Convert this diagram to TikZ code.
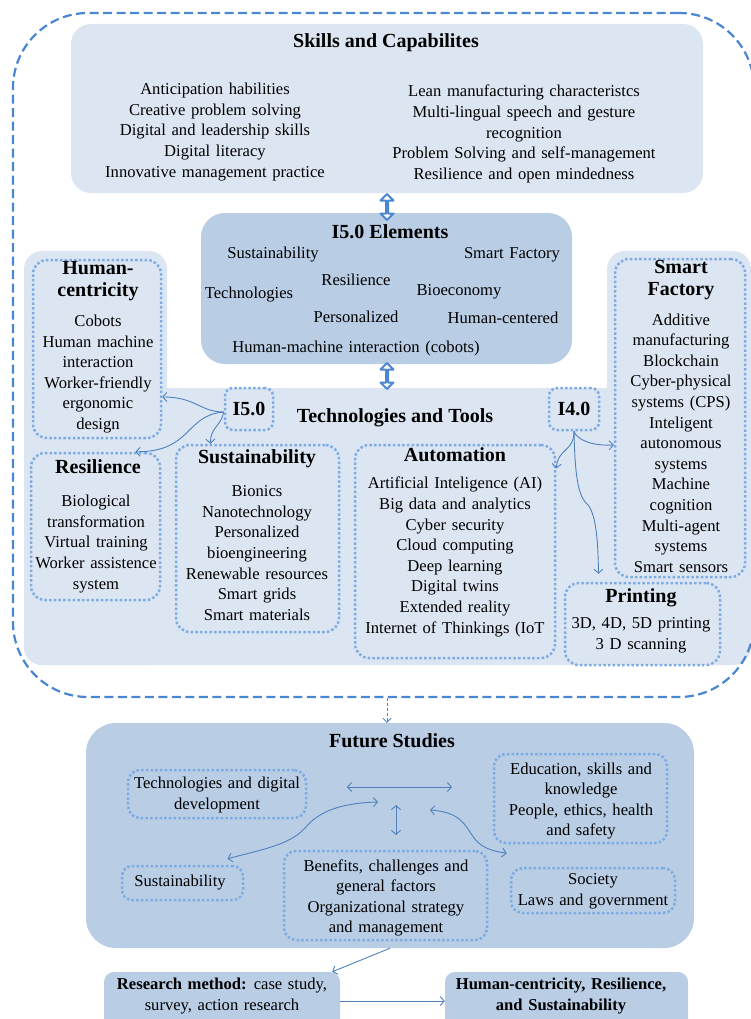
\documentclass[tikz,border=0pt]{standalone}
\usepackage{fontspec}
\setmainfont{Liberation Serif}
\usetikzlibrary{arrows.meta,shapes.arrows,fit,calc}
\definecolor{paleblue}{RGB}{220,230,242}
\definecolor{midblue}{RGB}{185,205,229}
\definecolor{dotblue}{RGB}{125,172,228}
\definecolor{linkblue}{RGB}{79,129,189}
\definecolor{frameblue}{RGB}{74,134,210}
% body text: slightly wider word spacing
\newcommand{\bodyfont}{\fontsize{16.6}{20.6}\selectfont\setlength{\spaceskip}{0.34em plus 0.1em}}

\begin{document}
\begin{tikzpicture}[x=1pt,y=-1pt,
  body/.style={align=center,inner sep=0pt,font=\bodyfont},
  ttl/.style={align=center,inner sep=0pt,font=\fontsize{20}{22.5}\selectfont\bfseries},
  panel/.style={fill=#1,draw=none,inner sep=0pt},
  dotbox/.style={draw=dotblue,line width=2.5pt,dash pattern=on 2.5pt off 2.2pt,inner sep=0pt,rounded corners=#1},
  dotbox/.default=14pt,
  link/.style={draw=linkblue,line width=0.9pt,-{Straight Barb[length=4pt,width=9pt]}},
  biglink/.style={draw=linkblue,line width=0.9pt,{Straight Barb[length=4pt,width=9pt]}-{Straight Barb[length=4pt,width=9pt]}},
  dashlink/.style={draw=frameblue,line width=0.8pt,dash pattern=on 3pt off 2pt,-{Straight Barb[length=4pt,width=8pt]}},
  hollow/.style={shape=double arrow,draw=frameblue,fill=white,line width=2pt,line join=round,
    minimum height=26pt,minimum width=7pt,double arrow head extend=5.5pt,
    double arrow head indent=0pt,inner sep=0pt,rotate=90},
]
\useasboundingbox (0,0) rectangle (751,1019);
\clip (0,0) rectangle (751,1019);

% ---- Skills and capabilities ----
\node[panel=paleblue,rounded corners=20pt,fit={(71,24)(703,193)}] (skills) {};
\node[ttl] (skills-t) at (386,43) {Skills and Capabilites};
\node[body] (skills-l) at (215,132) {Anticipation habilities\\Creative problem solving\\Digital and leadership skills\\Digital literacy\\Innovative management practice};
\node[body] (skills-r) at (524,134) {Lean manufacturing characteristcs\\Multi-lingual speech and gesture\\recognition\\Problem Solving and self-management\\Resilience and open mindedness};

% ---- I5.0 elements ----
\node[panel=midblue,rounded corners=24pt,fit={(201,213)(572,364)}] (elem) {};
\node[ttl] (elem-t) at (390,232) {I5.0 Elements};
\node[body] (e1) at (273,255) {Sustainability};
\node[body] (e2) at (512,255) {Smart Factory};
\node[body] (e3) at (356,280) {Resilience};
\node[body] (e4) at (249,295) {Technologies};
\node[body] (e5) at (459,292) {Bioeconomy};
\node[body] (e6) at (356,317) {Personalized};
\node[body] (e7) at (503,318) {Human-centered};
\node[body] (e8) at (356,349) {Human-machine interaction (cobots)};

% ---- Technologies and tools region ----
\fill[paleblue,rounded corners=18pt] (24,251) rectangle (167,665);
\fill[paleblue,rounded corners=18pt] (607,251) rectangle (751,665);
\fill[paleblue,rounded corners=18pt] (24,388) rectangle (751,665);
\node[ttl] (tech-t) at (395,418) {Technologies and Tools};

\node[hollow] (up1) at (387,207) {};
\node[hollow] (up2) at (387,376) {};

% Human-centricity
\node[dotbox,fit={(33,260)(161,438)}] (hc) {};
\node[ttl] (hc-t) at (98,281) {Human-\\centricity};
\node[body] (hc-b) at (98,374) {Cobots\\Human machine\\interaction\\Worker-friendly\\ergonomic\\design};

% Smart factory
\node[dotbox,fit={(615,259)(745,577)}] (sf) {};
\node[ttl] (sf-t) at (681,280) {Smart\\Factory};
\node[body] (sf-b) at (681,443) {Additive\\manufacturing\\Blockchain\\Cyber-physical\\systems (CPS)\\Inteligent\\autonomous\\systems\\Machine\\cognition\\Multi-agent\\systems\\Smart sensors};

% Version tags
\node[dotbox=8pt,fit={(225,388)(273,430)}] (i50) {};
\node[ttl] at (i50) (i50-t) {I5.0};
\node[dotbox=8pt,fit={(549,388)(599,430)}] (i40) {};
\node[ttl] at (i40) (i40-t) {I4.0};

% Resilience
\node[dotbox,fit={(31,453)(160,600)}] (res) {};
\node[ttl] (res-t) at (98,467) {Resilience};
\node[body] (res-b) at (96,544) {Biological\\transformation\\Virtual training\\Worker assistence\\system};

% Sustainability
\node[dotbox,fit={(176,445)(339,632)}] (sus) {};
\node[ttl] (sus-t) at (257,459) {Sustainability};
\node[body] (sus-b) at (257,553) {Bionics\\Nanotechnology\\Personalized\\bioengineering\\Renewable resources\\Smart grids\\Smart materials};

% Automation
\node[dotbox,fit={(355,445)(555,658)}] (aut) {};
\node[ttl] (aut-t) at (455,455) {Automation};
\node[body] (aut-b) at (455,557) {Artificial Inteligence (AI)\\Big data and analytics\\Cyber security\\Cloud computing\\Deep learning\\Digital twins\\Extended reality\\Internet of Thinkings (IoT};

% Printing
\node[dotbox,fit={(565,583)(720,665)}] (prt) {};
\node[ttl] (prt-t) at (641,598) {Printing};
\node[body] (prt-b) at (641,635) {3D, 4D, 5D printing\\3 D scanning};

% connectors from the version tags
\draw[link] ([yshift=-3pt]i50.west) .. controls (200,412) and (196,397) .. ([yshift=-48pt]hc.east);
\draw[link] ([yshift=-3pt]i50.west) .. controls (185,415) and (192,452) .. ([xshift=40pt]res.north);
\draw[link] ([yshift=-3pt]i50.west) .. controls (221,426) and (210,428) .. ([xshift=-47pt]sus.north);
\draw[link] (i40.south) .. controls (574,452) and (558,448) .. ([yshift=83pt]aut.east);
\draw[link] (i40.south) .. controls (577,440) and (592,446) .. ([yshift=-27pt]sf.west);
\draw[link] (i40.south) .. controls (575,485) and (580,498) .. (588,505) .. controls (596,515) and (598,540) .. ([xshift=-44pt,yshift=8pt]prt.north);

% ---- Outer frame ----
\node[draw=frameblue,line width=2.2pt,dash pattern=on 9pt off 4.5pt,rounded corners=75pt,inner sep=0pt,fit={(13,13)(754,697)}] (outer) {};

% ---- Future studies ----
\node[panel=midblue,rounded corners=30pt,fit={(86,723)(694,948)}] (fs) {};
\node[ttl] (fs-t) at (392,741) {Future Studies};
\draw[dashlink] (up2.center |- outer.south) -- (up2.center |- fs.north);

\node[dotbox=12pt,fit={(128,770)(306,818)}] (tdd) {};
\node[body] (tdd-t) at (217,795) {Technologies and digital\\development};
\node[dotbox=12pt,fit={(494,754)(667,843)}] (edu) {};
\node[body] (edu-t) at (581,801) {Education, skills and\\knowledge\\People, ethics, health\\and safety};
\node[dotbox=10pt,fit={(122,866)(243,900)}] (sus2) {};
\node[body] (sus2-t) at (180,883) {Sustainability};
\node[dotbox=12pt,fit={(284,851)(487,940)}] (ben) {};
\node[body] (ben-t) at (386,898) {Benefits, challenges and\\general factors\\Organizational strategy\\and management};
\node[dotbox=12pt,fit={(511,868)(675,913)}] (soc) {};
\node[body] (soc-t) at (593,891) {Society\\Laws and government};

\coordinate (h1) at (347,787);
\coordinate (h2) at (452,787);
\coordinate (v1) at (396,805);
\coordinate (v2) at (396,835);
\coordinate (c1) at (378,802);
\coordinate (c2) at (430,810);
\draw[biglink] (h1) -- (h2);
\draw[biglink] (v1) -- (v2);
\draw[biglink] ([xshift=45pt,yshift=6pt]sus2.north) .. controls (260,850) and (290,845) .. (305,828) .. controls (318,812) and (340,803) .. (c1);
\draw[biglink] (c2) .. controls (460,812) and (465,825) .. (472,835) .. controls (480,848) and (492,851) .. ([xshift=14pt,yshift=-9pt]edu.south west);

% ---- Bottom row ----
\node[panel=midblue,rounded corners=10pt,fit={(104,972)(340,1030)}] (rm) {};
\node[body] (rm-t) at (222,996) {\textbf{Research method:} case study,\\survey, action research};
\node[panel=midblue,rounded corners=10pt,fit={(445,972)(688,1030)}] (hrs) {};
\node[body,font=\bodyfont\bfseries] (hrs-t) at (561,996) {Human-centricity, Resilience,\\and Sustainability};

\draw[link] (fs.south) -- ([xshift=-8pt]rm.north east);
\draw[link] (rm.east) -- (hrs.west);
\end{tikzpicture}
\end{document}
